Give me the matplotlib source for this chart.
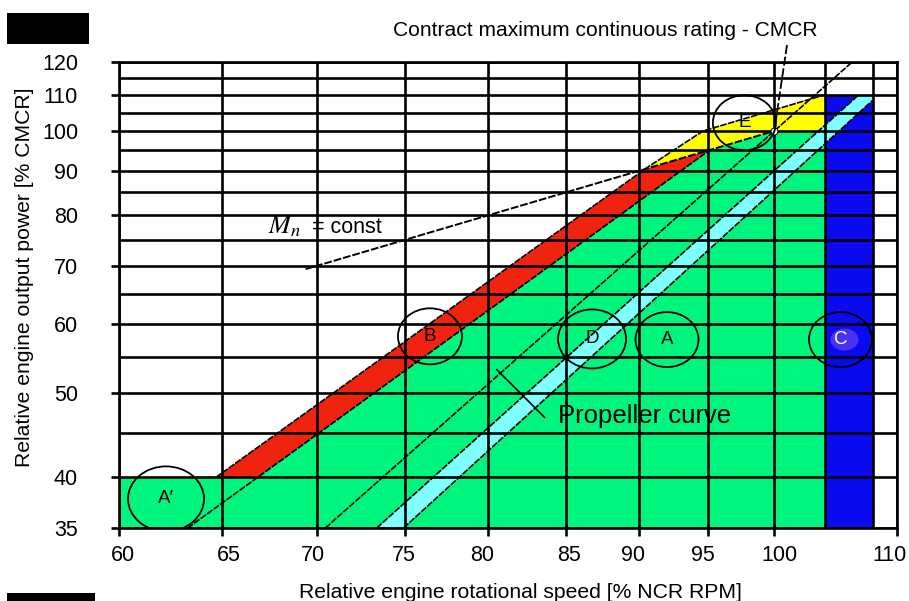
import matplotlib
matplotlib.use('Agg')
import matplotlib.pyplot as plt
from matplotlib.patches import Polygon, Rectangle, Ellipse
from matplotlib.transforms import ScaledTranslation
from matplotlib.ticker import FixedLocator, NullFormatter, FixedFormatter

plt.rcParams['font.family'] = ['Liberation Sans', 'DejaVu Sans']

# ---------------- data (speed % NCR, power % CMCR) ----------------
speed_major = [60, 65, 70, 75, 80, 85, 90, 95, 100, 110]
speed_minor = [104, 108]
power_major = [35, 40, 50, 60, 70, 80, 90, 100, 110, 120]
power_minor = [45, 55, 65, 75, 85, 95, 105, 115]

green_speed = [60, 60, 64.7, 90.4, 100, 104, 104]
green_power = [35, 40, 40, 90.4, 100, 100, 35]
red_speed = [64.7, 66.8, 95.1, 90.4]
red_power = [40, 40, 95.1, 90.4]
yellow_speed = [90.4, 94.6, 104, 104, 100]
yellow_power = [90.4, 100, 110, 100, 100]
blue_speed = [104, 108, 108, 104]
blue_power = [35, 35, 110, 110]
cyan_speed = [73.35, 74.9, 108, 108, 106.8]
cyan_power = [35, 35, 108.5, 110, 110]

upper_limit_speed = [64.7, 90.4, 94.6, 104]
upper_limit_power = [40, 90.4, 100, 110]
lower_limit_speed = [63.3, 95.1]
lower_limit_power = [35, 95.1]
torque_speed = [69.4, 100]
torque_power = [69.4, 100]
prop_speed = [70.47, 106.27]
prop_power = [35, 120]
cyan_left_speed = [73.35, 106.8]
cyan_left_power = [35, 110]
cyan_right_speed = [74.9, 108]
cyan_right_power = [35, 108.5]
pointer_speed = [80.55, 83.6]
pointer_power = [53.2, 46.9]
leader_speed = [101.0, 100.0]
leader_power = [125.5, 100.0]
cmcr_speed = [100]
cmcr_power = [100]

zone_labels = ["A\u2032", 'B', 'D', 'A', 'C', 'E']
zone_speed = [62.24, 76.46, 86.76, 91.98, 105.3, 97.7]
zone_power = [37.8, 58.1, 57.7, 57.6, 57.6, 102.2]

# ---------------- styling ----------------
GREEN = '#00f57f'
RED = '#f0230f'
YELLOW = '#ffff00'
BLUE = '#0a0aee'
CYAN = '#80ffff'
zone_sizes_px = [(76, 65), (64, 56), (68, 59), (63, 55), (63, 55), (63, 55)]
zone_text_colors = ['black', 'black', 'black', 'black', 'white', 'black']
# small horizontal shifts (px) of the x tick labels as placed in the original
xlabel_shift_px = [4, 7, -4, -1, -6, 3, -6, -6, 5, -7]

fig = plt.figure(figsize=(9.09, 6.01), dpi=100)
ax = fig.add_axes([119 / 909, 1 - 528 / 601, 777.5 / 909, 466 / 601])
ax.set_xscale('log')
ax.set_yscale('log')
ax.set_xlim(60, 110)
ax.set_ylim(35, 120)

ax.xaxis.set_major_locator(FixedLocator(speed_major))
ax.xaxis.set_major_formatter(FixedFormatter([str(v) for v in speed_major]))
ax.xaxis.set_minor_locator(FixedLocator(speed_minor))
ax.xaxis.set_minor_formatter(NullFormatter())
ax.yaxis.set_major_locator(FixedLocator(power_major))
ax.yaxis.set_major_formatter(FixedFormatter([str(v) for v in power_major]))
ax.yaxis.set_minor_locator(FixedLocator(power_minor))
ax.yaxis.set_minor_formatter(NullFormatter())

ax.set_axisbelow(False)
ax.grid(True, which='both', color='black', lw=1.9)
ax.tick_params(which='major', direction='out', length=5.5, width=1.9,
               labelsize=15.5, colors='black')
ax.tick_params(axis='x', which='major', pad=7)
ax.tick_params(axis='y', which='major', pad=24)
ax.tick_params(which='minor', length=0)
for s in ax.spines.values():
    s.set_linewidth(1.9)
    s.set_color('black')

for lbl, dx in zip(ax.get_xticklabels(), xlabel_shift_px):
    lbl.set_transform(lbl.get_transform() + ScaledTranslation(dx / 100, 0, fig.dpi_scale_trans))

def poly(xs, ys, color):
    ax.add_patch(Polygon(list(zip(xs, ys)), closed=True, facecolor=color,
                         edgecolor='none', zorder=1))

poly(green_speed, green_power, GREEN)
poly(red_speed, red_power, RED)
poly(yellow_speed, yellow_power, YELLOW)
poly(blue_speed, blue_power, BLUE)
poly(cyan_speed, cyan_power, CYAN)

dash = (0, (4, 0.8))
for xs, ys in [(upper_limit_speed, upper_limit_power),
               (lower_limit_speed, lower_limit_power),
               (prop_speed, prop_power),
               (cyan_left_speed, cyan_left_power),
               (cyan_right_speed, cyan_right_power)]:
    ax.plot(xs, ys, color='black', lw=1.2, ls=dash, zorder=3)
ax.plot(torque_speed, torque_power, color='black', lw=1.4, ls=(0, (4, 1)), zorder=3)
ax.plot(pointer_speed, pointer_power, color='black', lw=1.2, zorder=3)
ax.plot(leader_speed, leader_power, color='black', lw=1.3, ls=(0, (5, 1.5)),
        zorder=3, clip_on=False)
ax.plot(cmcr_speed, cmcr_power, 'o', ms=5, mfc='white', mec='black', mew=0.7, zorder=4)

# purple glow behind C
cx, cy = zone_speed[4], zone_power[4]
ax.add_patch(Ellipse((0.04, 0), 0.28, 0.22, facecolor='#5a3cf0', edgecolor='none',
                     alpha=0.8, zorder=2,
                     transform=fig.dpi_scale_trans + ScaledTranslation(cx, cy, ax.transData)))

for lab, x, y, (w, h), tc in zip(zone_labels, zone_speed, zone_power,
                                  zone_sizes_px, zone_text_colors):
    tr = fig.dpi_scale_trans + ScaledTranslation(x, y, ax.transData)
    ax.add_patch(Ellipse((0, 0), w / 100, h / 100, facecolor='none',
                         edgecolor='black', lw=1.3, zorder=5, transform=tr))
    ax.text(x, y, lab, ha='center', va='center', fontsize=13.5, color=tc, zorder=6)

ax.text(84.49, 46.26, 'Propeller curve', fontsize=18.5, ha='left', va='baseline', zorder=6)
ax.text(67.39, 76.3, r'$M_n$', fontsize=19, math_fontfamily='stix',
        ha='left', va='baseline', zorder=6)
ax.text(69.75, 76.3, '= const', fontsize=15.5, ha='left', va='baseline', zorder=6)

fig.text(393 / 909, 1 - 36 / 601, 'Contract maximum continuous rating - CMCR',
         fontsize=15.1, ha='left', va='baseline')
fig.text(520 / 909, 1 - 598 / 601, 'Relative engine rotational speed [% NCR RPM]',
         fontsize=15.2, ha='center', va='baseline')
fig.text(25 / 909, 1 - 277.5 / 601, 'Relative engine output power [% CMCR]',
         fontsize=15.2, ha='center', va='center', rotation=90)

# black redaction boxes
fig.patches.append(Rectangle((7 / 909, 1 - 44 / 601), 82 / 909, 31 / 601,
                             transform=fig.transFigure, facecolor='black',
                             edgecolor='none', figure=fig))
fig.patches.append(Rectangle((7 / 909, 0), 88 / 909, 8 / 601,
                             transform=fig.transFigure, facecolor='black',
                             edgecolor='none', figure=fig))

fig.savefig('out.png', dpi=100)
